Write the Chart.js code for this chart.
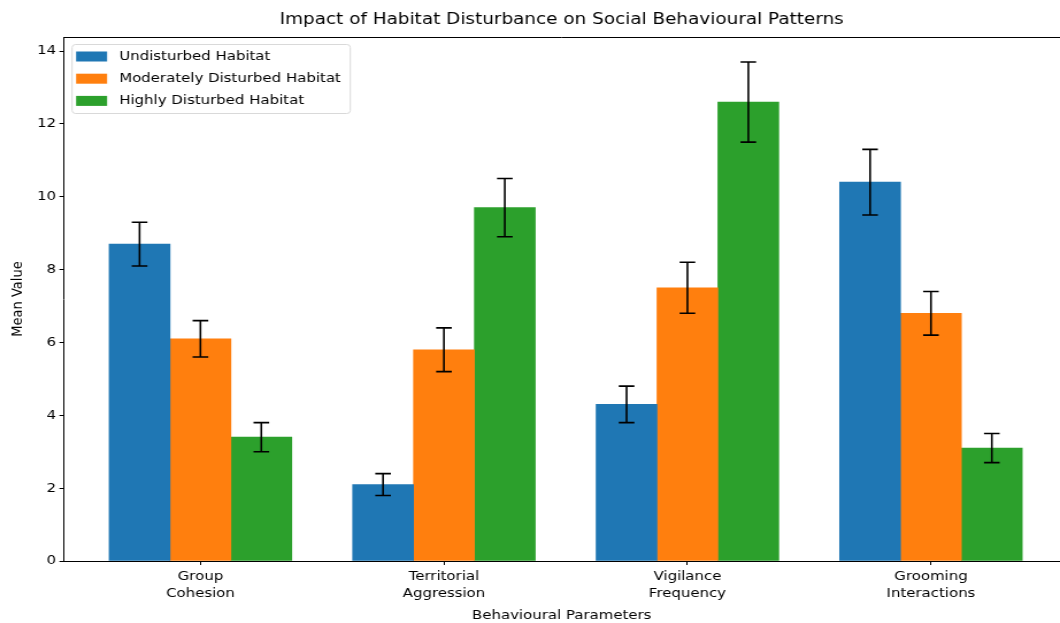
<!DOCTYPE html>
<html>
<head>
<meta charset="utf-8">
<script src="https://cdn.jsdelivr.net/npm/chart.js@4/dist/chart.umd.min.js"></script>
<style>
    html, body { margin: 0; padding: 0; background: #fff; overflow: hidden; }
    #habitatChart { display: block; }
</style>
</head>
<body>
<!-- the reference is a figure stretched ~1.15x sideways, so the canvas is drawn narrower and scaled by css -->
<canvas id="habitatChart" width="922" height="623" style="width:1060px;height:623px"></canvas>
<script>
// values
const categories = ['Group Cohesion', 'Territorial Aggression', 'Vigilance Frequency', 'Grooming Interactions'];
const seriesNames = ['Undisturbed Habitat', 'Moderately Disturbed Habitat', 'Highly Disturbed Habitat'];
const seriesColors = ['#1f77b4', '#ff7f0e', '#2ca02c'];

const undisturbed = [8.7, 2.1, 4.3, 10.4];
const undisturbedErr = [0.6, 0.3, 0.5, 0.9];
const moderate = [6.1, 5.8, 7.5, 6.8];
const moderateErr = [0.5, 0.6, 0.7, 0.6];
const high = [3.4, 9.7, 12.6, 3.1];
const highErr = [0.4, 0.8, 1.1, 0.4];

const yTicks = [0, 2, 4, 6, 8, 10, 12, 14];
const barWidth = 0.25;

const seriesValues = [undisturbed, moderate, high],
    seriesErrors = [undisturbedErr, moderateErr, highErr];

const FONT = 'DejaVu Sans';

const makeDataset = (idx) => {
    const offset = (idx - 1) * barWidth;
    return {
        label: seriesNames[idx],
        data: seriesValues[idx].map((v, i) => ({x: i + offset, y: v})),
        errors: seriesErrors[idx],
        backgroundColor: seriesColors[idx],
        borderWidth: 0,
        grouped: false,
        barPercentage: 1,
        categoryPercentage: 1
    }
}

const errorBars = {
    id: 'errorBars',
    afterDatasetsDraw(chart) {
        const {ctx, scales: {x, y}} = chart;
        ctx.save();
        ctx.strokeStyle = '#000';
        ctx.lineWidth = 1.6;
        chart.data.datasets.forEach(ds => {
            ds.data.forEach((pt, i) => {
                const px = x.getPixelForValue(pt.x),
                    top = y.getPixelForValue(pt.y + ds.errors[i]),
                    bot = y.getPixelForValue(pt.y - ds.errors[i]);
                ctx.beginPath();
                ctx.moveTo(px, top); ctx.lineTo(px, bot);
                ctx.moveTo(px - 6.8, top); ctx.lineTo(px + 6.8, top);
                ctx.moveTo(px - 6.8, bot); ctx.lineTo(px + 6.8, bot);
                ctx.stroke();
            })
        })
        ctx.restore();
    }
}

// matplotlib-like legend inside the axes plus the top spine
const frameAndLegend = {
    id: 'frameAndLegend',
    afterDraw(chart) {
        const {ctx, chartArea: area} = chart;
        ctx.save();
        ctx.strokeStyle = '#000';
        ctx.lineWidth = 1;
        ctx.beginPath();
        ctx.moveTo(area.left, area.top + 0.5);
        ctx.lineTo(area.right, area.top + 0.5);
        ctx.stroke();

        const bx = area.left + 7.5, by = area.top + 7.5, bw = 242, bh = 69;
        ctx.fillStyle = 'rgba(255,255,255,0.8)';
        ctx.strokeStyle = '#d9d9d9';
        ctx.beginPath();
        ctx.roundRect(bx, by, bw, bh, 3);
        ctx.fill();
        ctx.stroke();

        ctx.font = `13px "${FONT}"`;
        ctx.textBaseline = 'middle';
        ctx.textAlign = 'left';
        chart.data.datasets.forEach((ds, i) => {
            const cy = by + 12 + i * 22.2;
            ctx.fillStyle = ds.backgroundColor;
            ctx.fillRect(bx + 3.5, cy - 5, 27, 10);
            ctx.fillStyle = '#000';
            ctx.fillText(ds.label, bx + 41, cy);
        })
        ctx.restore();
    }
}

const ctx = document.getElementById('habitatChart');

new Chart(ctx, {
    type: 'bar',
    data: {
        datasets: seriesNames.map((n, i) => makeDataset(i))
    },
    options: {
        responsive: false,
        animation: false,
        devicePixelRatio: 1,
        layout: {padding: 0},
        plugins: {
            legend: {display: false},
            tooltip: {enabled: false},
            title: {
                display: true,
                fullSize: false,
                text: 'Impact of Habitat Disturbance on Social Behavioural Patterns',
                color: '#000',
                font: {family: FONT, size: 16, weight: 'normal', lineHeight: 1.2},
                padding: {top: 10, bottom: 7.8}
            }
        },
        scales: {
            x: {
                type: 'linear',
                offset: false,
                min: -0.5625,
                max: 3.53,
                afterBuildTicks: axis => {
                    axis.ticks = categories.map((c, i) => ({value: i}));
                },
                afterFit: axis => { axis.height = 62; },
                ticks: {
                    autoSkip: false,
                    maxRotation: 0,
                    padding: 3,
                    color: '#000',
                    font: {family: FONT, size: 13, lineHeight: 1.3},
                    callback: value => categories[value] ? categories[value].split(' ') : ''
                },
                grid: {offset: false, drawOnChartArea: false, drawTicks: true, tickLength: 4, color: '#000'},
                border: {display: true, color: '#000', width: 1},
                title: {
                    display: true,
                    text: 'Behavioural Parameters',
                    color: '#000',
                    font: {family: FONT, size: 13, lineHeight: 1.2},
                    padding: {top: 0, bottom: 0}
                }
            },
            y: {
                min: 0,
                max: 14.385,
                afterBuildTicks: axis => {
                    axis.ticks = yTicks.map(v => ({value: v}));
                },
                afterFit: axis => { axis.width = 55.2; },
                ticks: {
                    padding: 3,
                    color: '#000',
                    font: {family: FONT, size: 13}
                },
                grid: {drawOnChartArea: false, drawTicks: true, tickLength: 3.5, color: '#000'},
                border: {display: true, color: '#000', width: 1},
                title: {
                    display: true,
                    text: 'Mean Value',
                    color: '#000',
                    font: {family: FONT, size: 13, lineHeight: 1.2},
                    padding: {top: 8, bottom: 0}
                }
            }
        }
    },
    plugins: [errorBars, frameAndLegend]
});
</script>
</body>
</html>
